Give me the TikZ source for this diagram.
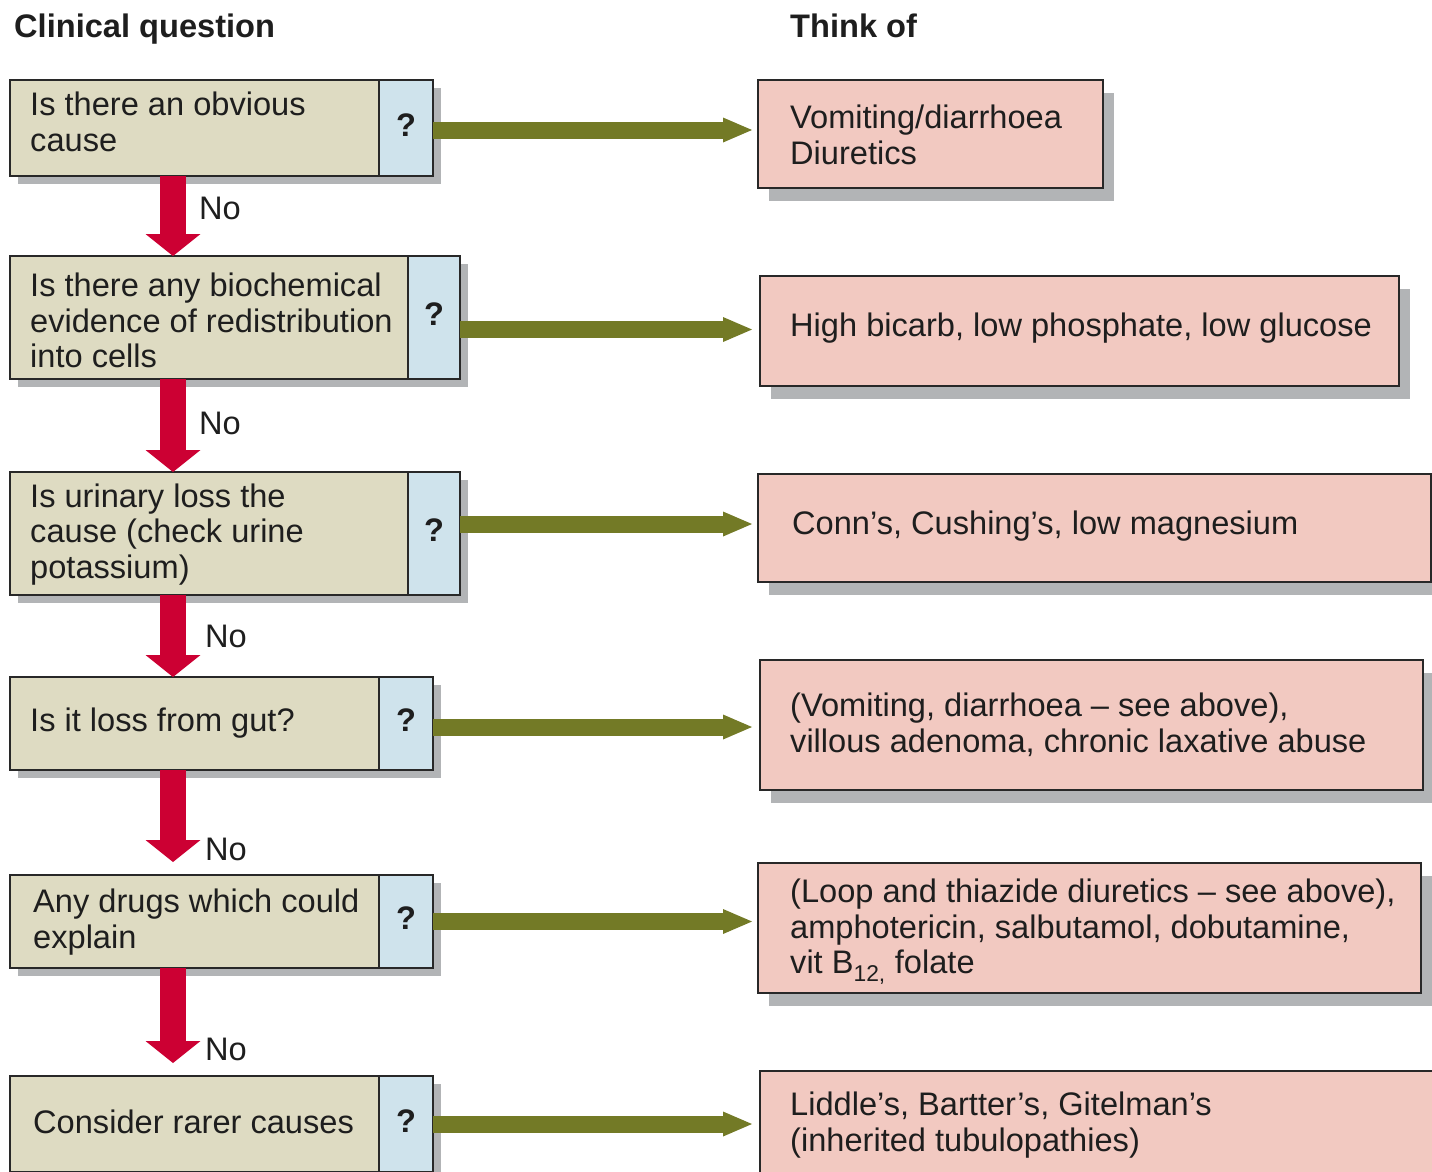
\documentclass[tikz,border=0pt]{standalone}
\usepackage{fontspec}
\setmainfont{Liberation Sans}
\usetikzlibrary{arrows.meta,shadows}
\definecolor{tanfill}{RGB}{222,219,194}
\definecolor{bluefill}{RGB}{207,227,236}
\definecolor{pinkfill}{RGB}{242,201,193}
\definecolor{shadowgray}{RGB}{178,180,182}
\definecolor{bordercol}{RGB}{40,40,40}
\definecolor{txtcol}{RGB}{30,30,30}
\definecolor{redc}{RGB}{204,0,51}
\definecolor{greenc}{RGB}{115,122,38}
\begin{document}
\begin{tikzpicture}[x=1pt,y=-1pt,
  every node/.style={font=\fontsize{32.6}{35.7}\selectfont, inner sep=0pt, text=txtcol},
  qbox/.style={draw=bordercol, line width=1.8pt, outer sep=0pt, fill=tanfill, anchor=north west,
    drop shadow={shadow xshift=8pt, shadow yshift=-8pt, fill=shadowgray, opacity=1}},
  mbox/.style={qbox, fill=bluefill, text depth=6pt, font=\fontsize{32.6}{35.7}\selectfont\bfseries},
  rbox/.style={draw=bordercol, line width=1.8pt, outer sep=0pt, fill=pinkfill, anchor=north west,
    drop shadow={shadow xshift=11pt, shadow yshift=-13pt, fill=shadowgray, opacity=1}},
  txt/.style={anchor=west, align=left},
  title/.style={anchor=base west, font=\fontsize{32.6}{35.7}\selectfont\bfseries},
  nolabel/.style={anchor=west},
  redarrow/.style={draw=redc, line width=26pt, -{Triangle[length=22pt,width=55pt,line width=0pt]}},
  greenarrow/.style={draw=greenc, line width=17pt, -{Triangle[length=29pt,width=25pt,line width=0pt]}},
]
\useasboundingbox (0,0) rectangle (1432,1171);
\clip (0,0) rectangle (1432,1171);

% titles
\node[title] (t1) at (14,37) {Clinical question};
\node[title] (t2) at (790,37) {Think of};

% question boxes
\node[qbox, minimum width=369pt, minimum height=96pt] (q1) at (10,80) {};
\node[mbox, minimum width=54pt, minimum height=96pt] (m1) at (q1.north east) {?};
\node[qbox, minimum width=398pt, minimum height=123pt] (q2) at (10,256) {};
\node[mbox, minimum width=52pt, minimum height=123pt] (m2) at (q2.north east) {?};
\node[qbox, minimum width=398pt, minimum height=123pt] (q3) at (10,472) {};
\node[mbox, minimum width=52pt, minimum height=123pt] (m3) at (q3.north east) {?};
\node[qbox, minimum width=369pt, minimum height=93pt] (q4) at (10,677) {};
\node[mbox, minimum width=54pt, minimum height=93pt] (m4) at (q4.north east) {?};
\node[qbox, minimum width=369pt, minimum height=93pt] (q5) at (10,875) {};
\node[mbox, minimum width=54pt, minimum height=93pt] (m5) at (q5.north east) {?};
\node[qbox, minimum width=369pt, minimum height=96pt] (q6) at (10,1076) {};
\node[mbox, minimum width=54pt, minimum height=96pt] (m6) at (q6.north east) {?};

\node[txt] (q1t) at (30,122) {Is there an obvious\\cause};
\node[txt] (q2t) at (30,320.5) {Is there any biochemical\\evidence of redistribution\\into cells};
\node[txt] (q3t) at (30,534.5) {Is urinary loss the\\cause (check urine\\potassium)};
\node[txt] (q4t) at (30,723) {Is it loss from gut?};
\node[txt] (q5t) at (33,922) {Any drugs which could\\explain};
\node[txt] (q6t) at (33,1122) {Consider rarer causes};

% answer boxes
\node[rbox, minimum width=345pt, minimum height=108pt] (r1) at (758,80) {};
\node[rbox, minimum width=639pt, minimum height=110pt] (r2) at (760,276) {};
\node[rbox, minimum width=673pt, minimum height=108pt] (r3) at (758,474) {};
\node[rbox, minimum width=663pt, minimum height=130pt] (r4) at (760,660) {};
\node[rbox, minimum width=663pt, minimum height=130pt] (r5) at (758,863) {};
\node[rbox, minimum width=680pt, minimum height=110pt] (r6) at (760,1071) {};

\node[txt] (r1t) at (790,135) {Vomiting/diarrhoea\\Diuretics};
\node[txt] (r2t) at (790,328) {High bicarb, low phosphate, low glucose};
\node[txt] (r3t) at (792,526) {Conn’s, Cushing’s, low magnesium};
\node[txt] (r4t) at (790,725) {(Vomiting, diarrhoea -- see above),\\villous adenoma, chronic laxative abuse};
\node[txt] (r5t) at (790,931.5) {(Loop and thiazide diuretics -- see above),\\amphotericin, salbutamol, dobutamine,\\vit B\textsubscript{12,} folate};
\node[txt] (r6t) at (790,1125) {Liddle’s, Bartter’s, Gitelman’s\\(inherited tubulopathies)};

% red "No" arrows
\draw[redarrow] ([xshift=163pt]q1.south west) -- ([xshift=163pt]q2.north west);
\draw[redarrow] ([xshift=163pt]q2.south west) -- ([xshift=163pt]q3.north west);
\draw[redarrow] ([xshift=163pt]q3.south west) -- ([xshift=163pt]q4.north west);
\draw[redarrow] ([xshift=163pt]q4.south west) -- ([xshift=163pt,yshift=13pt]q5.north west);
\draw[redarrow] ([xshift=163pt]q5.south west) -- ([xshift=163pt,yshift=13pt]q6.north west);

\node[nolabel] (n1) at (199,208) {No};
\node[nolabel] (n2) at (199,423) {No};
\node[nolabel] (n3) at (205,636) {No};
\node[nolabel] (n4) at (205,849) {No};
\node[nolabel] (n5) at (205,1049) {No};

% green arrows
\coordinate (g1s) at ([yshift=-2pt]m1.east);
\coordinate (g1e) at (g1s -| r1.west);
\coordinate (g2s) at ([yshift=-12pt]m2.east);
\coordinate (g2e) at (g2s -| r2.west);
\coordinate (g3s) at ([yshift=9.5pt]m3.east);
\coordinate (g3e) at (g3s -| r3.west);
\coordinate (g4s) at ([yshift=-3.5pt]m4.east);
\coordinate (g4e) at (g4s -| r4.west);
\coordinate (g5s) at (m5.east);
\coordinate (g5e) at (g5s -| r5.west);
\coordinate (g6s) at (m6.east);
\coordinate (g6e) at (g6s -| r6.west);
\draw[greenarrow, shorten >=6pt] (g1s) -- (g1e);
\draw[greenarrow, shorten >=8pt] (g2s) -- (g2e);
\draw[greenarrow, shorten >=6pt] (g3s) -- (g3e);
\draw[greenarrow, shorten >=8pt] (g4s) -- (g4e);
\draw[greenarrow, shorten >=6pt] (g5s) -- (g5e);
\draw[greenarrow, shorten >=8pt] (g6s) -- (g6e);
\end{tikzpicture}
\end{document}
